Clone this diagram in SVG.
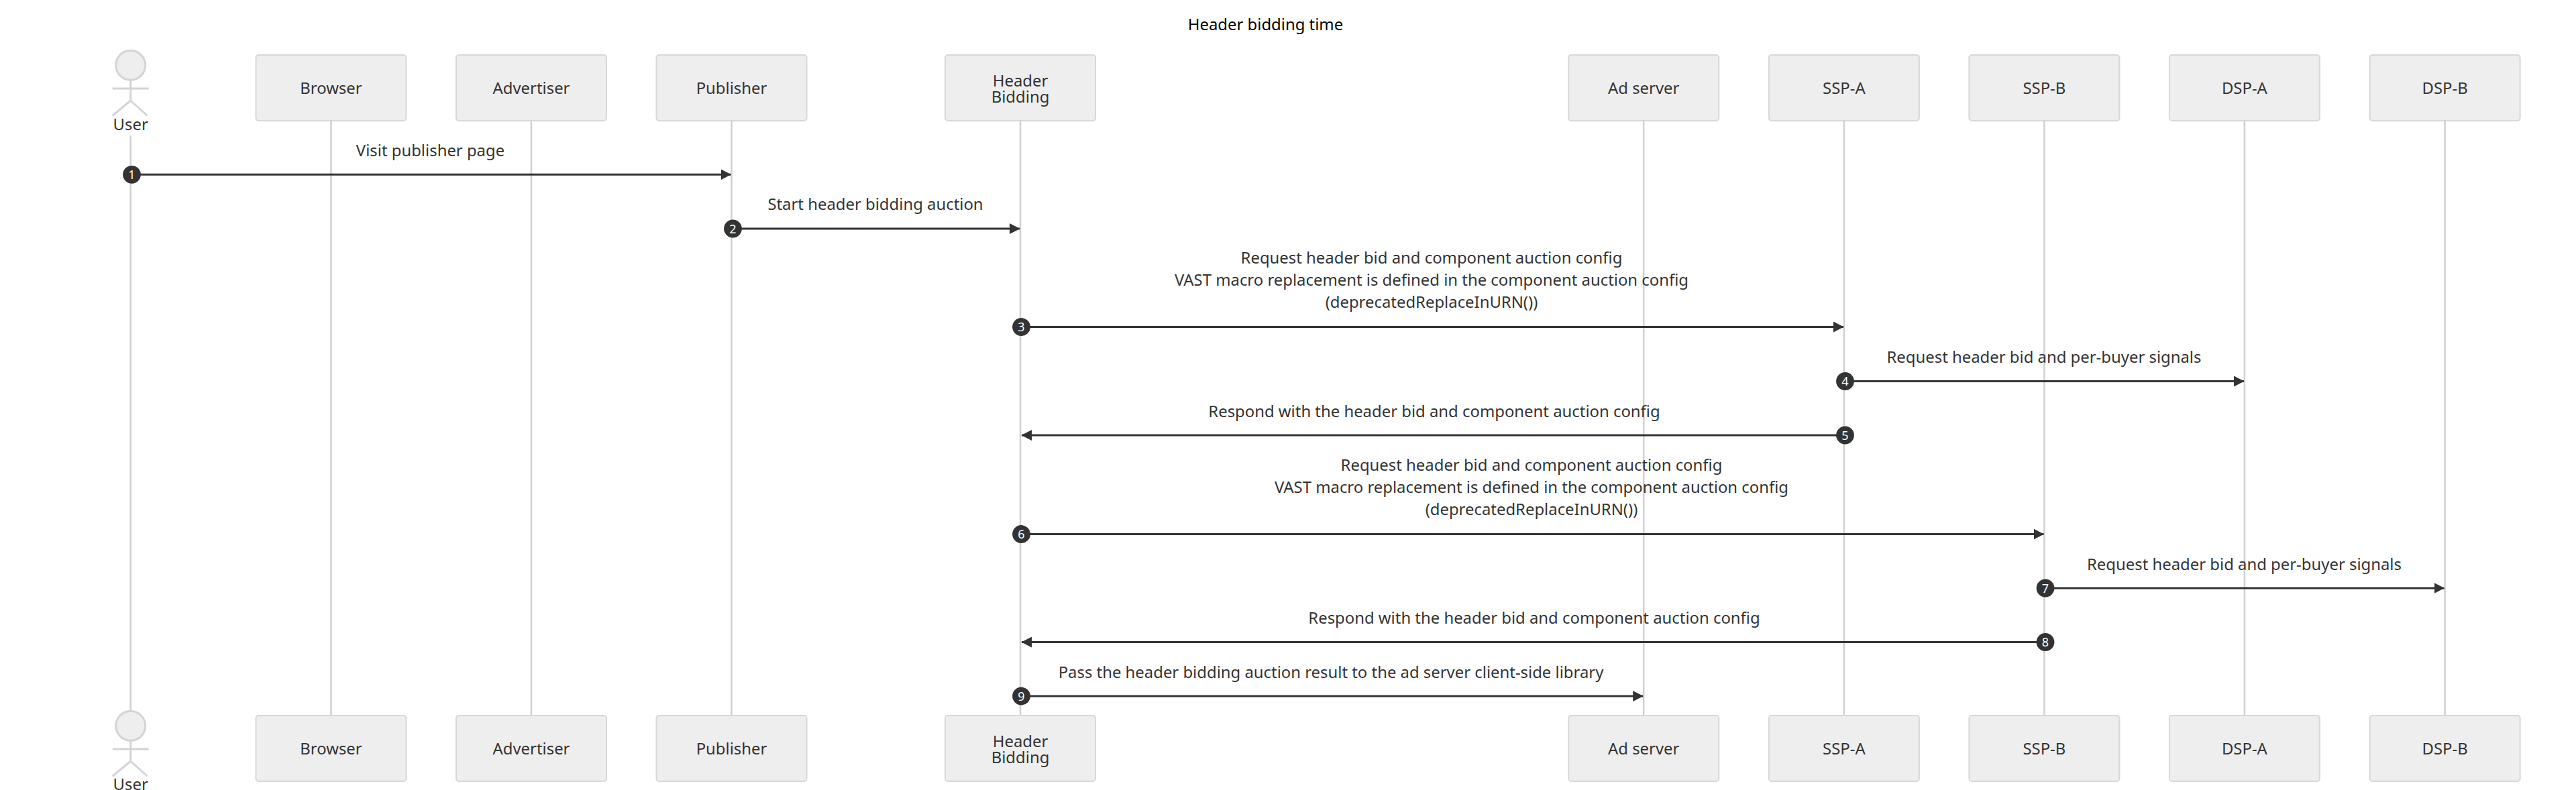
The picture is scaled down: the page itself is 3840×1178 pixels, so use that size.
<svg xmlns="http://www.w3.org/2000/svg" width="3840" height="1178" viewBox="0 0 3840 1178">
<style>
text{font-family:"Noto Sans","Open Sans","Liberation Sans",sans-serif;font-size:23.880px;fill:#333;text-anchor:middle}
.title{fill:#000}
.box{fill:#eee;stroke:#d8d8d8;stroke-width:2}
.life{stroke:#d0d0d0;stroke-width:2.500;fill:none}
.stick{stroke:#d4d4d4;stroke-width:3;fill:none}
.head{fill:#eee;stroke:#d4d4d4;stroke-width:3}
.msg{stroke:#333;stroke-width:3;fill:none;marker-end:url(#arrow)}
.num{fill:#fff;font-size:18px}
.dot{fill:#333}
</style>
<defs>
<marker id="arrow" markerUnits="userSpaceOnUse" markerWidth="16" markerHeight="16" refX="15" refY="8" orient="auto"><path d="M0 0L15.500 8L0 16z" fill="#333"/></marker>
<g id="user"><ellipse class="head" cx="0" cy="23.300" rx="22" ry="22"/><path class="stick" d="M0 46V76M-27 58H27M0 76L-27 98.500M0 76L25 98.500"/></g>
</defs>
<rect width="3840" height="1178" fill="#fff"/>
<text class="title" x="1886.500" y="45">Header bidding time</text>
<g id="lifelines">
<path class="life" d="M194.700 202V1059M493.500 180V1067M792 180V1067M1090.500 180V1067M1521 180V1067M2450.200 180V1067M2748.900 180V1067M3047.400 180V1067M3345.900 180V1067M3644.600 180V1067"/>
</g>
<g id="node-user-top"><use href="#user" x="194.700" y="74"/><text x="194.700" y="194">User</text></g>
<g id="node-browser-top"><rect class="box" x="381.500" y="82" width="224" height="98" rx="4"/><text x="493.500" y="140">Browser</text></g>
<g id="node-advertiser-top"><rect class="box" x="680" y="82" width="224" height="98" rx="4"/><text x="792" y="140">Advertiser</text></g>
<g id="node-publisher-top"><rect class="box" x="978.500" y="82" width="224" height="98" rx="4"/><text x="1090.500" y="140">Publisher</text></g>
<g id="node-hb-top"><rect class="box" x="1409" y="82" width="224" height="98" rx="4"/><text x="1521" y="128.500">Header<tspan x="1521" dy="24.500">Bidding</tspan></text></g>
<g id="node-adserver-top"><rect class="box" x="2338.200" y="82" width="224" height="98" rx="4"/><text x="2450.200" y="140">Ad server</text></g>
<g id="node-sspa-top"><rect class="box" x="2636.900" y="82" width="224" height="98" rx="4"/><text x="2748.900" y="140">SSP-A</text></g>
<g id="node-sspb-top"><rect class="box" x="2935.400" y="82" width="224" height="98" rx="4"/><text x="3047.400" y="140">SSP-B</text></g>
<g id="node-dspa-top"><rect class="box" x="3233.900" y="82" width="224" height="98" rx="4"/><text x="3345.900" y="140">DSP-A</text></g>
<g id="node-dspb-top"><rect class="box" x="3532.600" y="82" width="224" height="98" rx="4"/><text x="3644.600" y="140">DSP-B</text></g>
<g id="node-user-bottom"><use href="#user" x="194.700" y="1059"/><text x="194.700" y="1178">User</text></g>
<g id="node-browser-bottom"><rect class="box" x="381.500" y="1067" width="224" height="98" rx="4"/><text x="493.500" y="1125">Browser</text></g>
<g id="node-advertiser-bottom"><rect class="box" x="680" y="1067" width="224" height="98" rx="4"/><text x="792" y="1125">Advertiser</text></g>
<g id="node-publisher-bottom"><rect class="box" x="978.500" y="1067" width="224" height="98" rx="4"/><text x="1090.500" y="1125">Publisher</text></g>
<g id="node-hb-bottom"><rect class="box" x="1409" y="1067" width="224" height="98" rx="4"/><text x="1521" y="1113.500">Header<tspan x="1521" dy="24.500">Bidding</tspan></text></g>
<g id="node-adserver-bottom"><rect class="box" x="2338.200" y="1067" width="224" height="98" rx="4"/><text x="2450.200" y="1125">Ad server</text></g>
<g id="node-sspa-bottom"><rect class="box" x="2636.900" y="1067" width="224" height="98" rx="4"/><text x="2748.900" y="1125">SSP-A</text></g>
<g id="node-sspb-bottom"><rect class="box" x="2935.400" y="1067" width="224" height="98" rx="4"/><text x="3047.400" y="1125">SSP-B</text></g>
<g id="node-dspa-bottom"><rect class="box" x="3233.900" y="1067" width="224" height="98" rx="4"/><text x="3345.900" y="1125">DSP-A</text></g>
<g id="node-dspb-bottom"><rect class="box" x="3532.600" y="1067" width="224" height="98" rx="4"/><text x="3644.600" y="1125">DSP-B</text></g>
<g id="connectors">
<path class="msg" d="M196 260.300H1089.500"/>
<path class="msg" d="M1092.500 341H1520"/>
<path class="msg" d="M1522.500 487.500H2748"/>
<path class="msg" d="M2750.500 568.500H3345"/>
<path class="msg" d="M2750 649H1523"/>
<path class="msg" d="M1522.500 796.500H3046.500"/>
<path class="msg" d="M3049 877H3643.500"/>
<path class="msg" d="M3049 957.500H1523"/>
<path class="msg" d="M1522.500 1038H2449.200"/>
<circle class="dot" cx="196.500" cy="260.300" r="13.400"/><circle class="dot" cx="1092.500" cy="341" r="13.400"/><circle class="dot" cx="1522.500" cy="487.500" r="13.400"/><circle class="dot" cx="2750.500" cy="568.500" r="13.400"/><circle class="dot" cx="2750.500" cy="649" r="13.400"/><circle class="dot" cx="1522.500" cy="796.500" r="13.400"/><circle class="dot" cx="3049" cy="877" r="13.400"/><circle class="dot" cx="3049" cy="957.500" r="13.400"/><circle class="dot" cx="1522.500" cy="1038" r="13.400"/>
<text class="num" x="196.500" y="266.800">1</text><text class="num" x="1092.500" y="347.500">2</text><text class="num" x="1522.500" y="494">3</text><text class="num" x="2750.500" y="575">4</text><text class="num" x="2750.500" y="655.500">5</text><text class="num" x="1522.500" y="803">6</text><text class="num" x="3049" y="883.500">7</text><text class="num" x="3049" y="964">8</text><text class="num" x="1522.500" y="1044.500">9</text>
<text x="641.500" y="233">Visit publisher page</text>
<text x="1305" y="313">Start header bidding auction</text>
<text x="2134" y="393">Request header bid and component auction config</text>
<text x="2134" y="426">VAST macro replacement is defined in the component auction config</text>
<text x="2134" y="459">(deprecatedReplaceInURN())</text>
<text x="3047" y="541">Request header bid and per-buyer signals</text>
<text x="2138" y="622">Respond with the header bid and component auction config</text>
<text x="2283" y="702">Request header bid and component auction config</text>
<text x="2283" y="735">VAST macro replacement is defined in the component auction config</text>
<text x="2283" y="768">(deprecatedReplaceInURN())</text>
<text x="3345.500" y="850">Request header bid and per-buyer signals</text>
<text x="2287" y="930">Respond with the header bid and component auction config</text>
<text x="1984" y="1011">Pass the header bidding auction result to the ad server client-side library</text>
</g>
</svg>
